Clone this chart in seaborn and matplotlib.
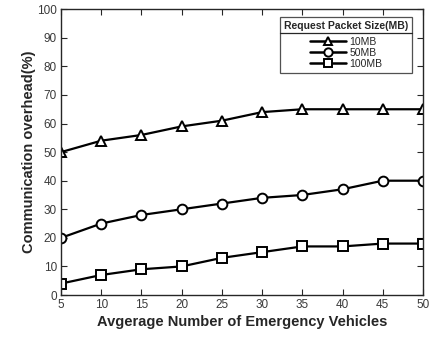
import matplotlib
matplotlib.use("Agg")
import matplotlib.pyplot as plt
from matplotlib.lines import Line2D
import seaborn as sns
import pandas as pd

# Average number of emergency vehicles
vehicles = [5, 10, 15, 20, 25, 30, 35, 40, 45, 50]
# Communication overhead (%) for each request packet size
overhead_10mb = [50, 54, 56, 59, 61, 64, 65, 65, 65, 65]
overhead_50mb = [20, 25, 28, 30, 32, 34, 35, 37, 40, 40]
overhead_100mb = [4, 7, 9, 10, 13, 15, 17, 17, 18, 18]
series_names = ["10MB", "50MB", "100MB"]
y_ticks = list(range(0, 101, 10))

df = pd.concat([
    pd.DataFrame({"x": vehicles, "y": vals, "size": name})
    for name, vals in zip(series_names, [overhead_10mb, overhead_50mb, overhead_100mb])
])

sns.set_theme(style="ticks")
plt.rcParams["font.family"] = ["Liberation Sans", "DejaVu Sans"]

fig = plt.figure(figsize=(4.42, 3.37), dpi=100)
ax = fig.add_axes([0.138, 0.1246, 0.819, 0.848])

markers = {"10MB": "^", "50MB": "o", "100MB": "s"}
sns.lineplot(data=df, x="x", y="y", style="size", markers=markers, dashes=False,
             color="black", linewidth=1.6, markersize=7, markerfacecolor="white",
             markeredgecolor="black", markeredgewidth=1.4, ax=ax, legend=False)

ax.set_xlim(5, 50)
ax.set_ylim(0, 100)
ax.set_xticks(vehicles)
ax.set_yticks(y_ticks)
ax.tick_params(direction="in", top=True, right=True, length=4, width=0.8,
               labelsize=8.5, labelcolor="#3a3a3a", colors="#262626", pad=3)
for sp in ax.spines.values():
    sp.set_visible(True)
    sp.set_color("#262626")
    sp.set_linewidth(1.0)

ax.set_xlabel("Avgerage Number of Emergency Vehicles", fontsize=10.5,
              fontweight="bold", color="#262626", labelpad=3)
ax.set_ylabel("Communication overhead(%)", fontsize=10.5,
              fontweight="bold", color="#262626", labelpad=1)

handles = [Line2D([], [], color="black", linewidth=1.8, marker=markers[n], markersize=6,
                  markerfacecolor="white", markeredgecolor="black", markeredgewidth=1.4)
           for n in series_names]
leg = ax.legend(handles, series_names, title="Request Packet Size(MB)",
                loc="upper right", bbox_to_anchor=(0.97, 0.972), fontsize=7.5,
                title_fontproperties={"weight": "bold", "size": 7.5},
                frameon=True, fancybox=False, edgecolor="#262626",
                handlelength=3.5, handletextpad=0.3, labelspacing=0.1,
                borderpad=0.38, borderaxespad=0.0)
leg.get_frame().set_linewidth(0.9)
leg._legend_box.sep = 4

# Divider between the legend title and its entries
fig.canvas.draw()
r = fig.canvas.get_renderer()
fb = leg.get_frame().get_window_extent(r)
tb = leg.get_title().get_window_extent(r)
y_line = tb.y0 - 2
inv = fig.transFigure.inverted()
(x0, yl), (x1, _) = inv.transform([(fb.x0, y_line), (fb.x1, y_line)])
fig.add_artist(Line2D([x0, x1], [yl, yl], transform=fig.transFigure,
                      color="#262626", linewidth=0.9))

fig.savefig("out.png", dpi=100)
